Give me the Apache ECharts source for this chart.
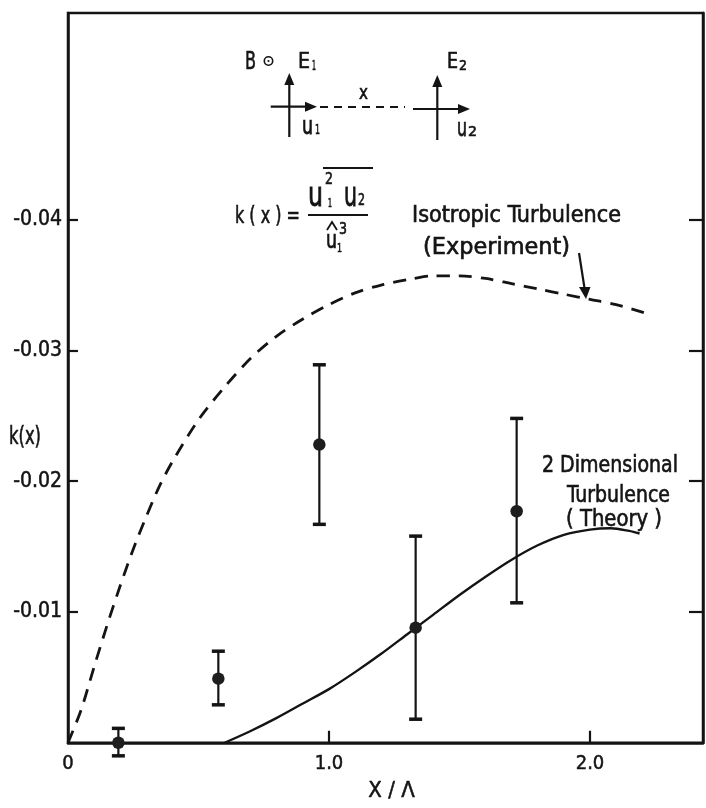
<!DOCTYPE html>
<html>
<head>
<meta charset="utf-8">
<script src="https://cdn.jsdelivr.net/npm/echarts@6/dist/echarts.min.js"></script>
<style>
  html, body { margin: 0; padding: 0; background: #fff; }
  #chart { width: 706px; height: 808px; }
</style>
</head>
<body>
<div id="chart"></div>
<script>
const FONT = '"DejaVu Sans Condensed", "Liberation Sans Narrow", "DejaVu Sans", sans-serif';
const INK = '#141414';

// Isotropic turbulence (experiment), dashed curve: x / Λ and k(x)
const isoX = [0, 0.05, 0.1, 0.15, 0.2, 0.25, 0.3, 0.35, 0.4, 0.5, 0.6, 0.7, 0.8, 0.9, 1.0,
              1.1, 1.2, 1.3, 1.4, 1.5, 1.6, 1.7, 1.8, 1.9, 2.0, 2.1, 2.22];
const isoY = [0, -0.0025, -0.0058, -0.0090, -0.0120, -0.0148, -0.0173, -0.0196, -0.0215, -0.0247, -0.0272,
              -0.0294, -0.0311, -0.0324, -0.0335, -0.0344, -0.0350, -0.0354, -0.0357, -0.0357, -0.0355,
              -0.0351, -0.0347, -0.0343, -0.0339, -0.0335, -0.0328];

// Two-dimensional turbulence (theory), solid curve
const theoryX = [0.6, 0.7, 0.8, 0.9, 1.0, 1.1, 1.2, 1.3, 1.4, 1.5, 1.6, 1.7, 1.8, 1.9, 2.0, 2.08, 2.15, 2.19];
const theoryY = [0, -0.0009, -0.0019, -0.0030, -0.0041, -0.0054, -0.0068, -0.0083, -0.0098, -0.0113, -0.0127,
                 -0.0140, -0.0151, -0.0159, -0.0163, -0.0164, -0.0162, -0.0160];

// Measured k(x) with error bars
const measX    = [0.193, 0.576, 0.963, 1.332, 1.719];
const measY    = [0, -0.0049, -0.0228, -0.0088, -0.0177];
const measTop  = [-0.0011, -0.0070, -0.0289, -0.0158, -0.0248];
const measBot  = [0.0010, -0.0029, -0.0167, -0.0018, -0.0107];

// Axis ticks and labels
const yTicks = [-0.04, -0.03, -0.02, -0.01];
const xTicks = [1, 2];
const xLabelValues = [0, 1, 2];

const zip = (xs, ys) => xs.map((x, i) => [x, ys[i]]);

// Text helper: fits a string between two x positions (the lettering is condensed)
const measureCtx = document.createElement('canvas').getContext('2d');
function fitText(str, x0, x1, yMid, size, scaleY) {
  const font = size + 'px ' + FONT;
  measureCtx.font = font;
  const w = measureCtx.measureText(str).width;
  return {
    type: 'text', x: x0, y: yMid, scaleX: (x1 - x0) / w, scaleY: scaleY || 1, z: 20,
    style: { text: str, font: font, fill: INK, stroke: INK, lineWidth: 0.6,
             textAlign: 'left', textVerticalAlign: 'middle' }
  };
}
function seg(x1, y1, x2, y2, lw, dash) {
  return { type: 'line', z: 20, shape: { x1, y1, x2, y2 },
           style: { stroke: INK, lineWidth: lw || 2.2, lineDash: dash || null } };
}
function head(points) {
  return { type: 'polygon', z: 20, shape: { points }, style: { fill: INK } };
}

const graphics = [
  // field diagram
  fitText('B', 245, 256, 62, 25),
  { type: 'circle', z: 20, shape: { cx: 268.5, cy: 61, r: 4.2 }, style: { stroke: INK, lineWidth: 1.6, fill: 'none' } },
  { type: 'circle', z: 20, shape: { cx: 268.5, cy: 61, r: 1.1 }, style: { fill: INK } },
  fitText('E', 298, 310, 62.5, 21),
  fitText('1', 312, 316, 66, 14),
  fitText('E', 447, 458, 62.5, 21),
  fitText('2', 459, 467, 66, 14),
  seg(289.3, 137, 289.3, 84),
  head([[284.3, 85], [294.3, 85], [289.3, 73]]),
  seg(270.7, 106.7, 306, 106.7),
  head([[305, 101.7], [305, 111.7], [317, 106.7]]),
  seg(320, 107, 405, 107, 2.2, [8, 6]),
  fitText('x', 359, 368, 94, 20),
  seg(437.3, 140, 437.3, 86),
  head([[432.3, 87], [442.3, 87], [437.3, 75]]),
  seg(413, 109, 459, 109),
  head([[458, 104], [458, 114], [470, 109]]),
  fitText('u', 302, 313, 127.5, 20, 1.25),
  fitText('1', 315, 320, 130, 14),
  fitText('u', 457, 467, 129.5, 20, 1.25),
  fitText('2', 468, 477, 132.5, 14),

  // definition of k(x)
  fitText('k ( x ) =', 235, 300, 217, 23),
  seg(323, 168, 373, 168),
  fitText('u', 308, 323, 197, 24, 1.4),
  fitText('2', 325, 333, 180, 15),
  fitText('1', 328, 332, 203.5, 12),
  fitText('u', 344, 357, 197, 24, 1.4),
  fitText('2', 358, 365, 201.5, 15),
  seg(308, 215, 368, 215),
  fitText('u', 326, 337, 241.5, 20, 1.2),
  { type: 'polyline', z: 20, shape: { points: [[327, 230], [332, 222], [337, 230]] }, style: { stroke: INK, lineWidth: 1.8, fill: 'none' } },
  fitText('3', 339, 347, 230, 15),
  fitText('1', 337, 342, 249, 12),

  // curve annotations
  fitText('Isotropic Turbulence', 412, 621, 216.5, 23),
  fitText('(Experiment)', 423, 570, 248, 23),
  seg(579, 253, 584.5, 288),
  head([[579, 287], [590.5, 287], [586, 299]]),
  fitText('2 Dimensional', 542, 678, 466, 23),
  fitText('Turbulence', 567, 670, 496, 23),
  fitText('( Theory )', 566, 662, 520, 23),

  // y-axis title
  fitText('k(x)', 9, 41, 437, 25)
];

const chart = echarts.init(document.getElementById('chart'), null, { renderer: 'canvas' });
chart.setOption({
  animation: false,
  backgroundColor: '#fff',
  grid: { left: 68, right: 3, top: 13, bottom: 59, show: true, borderColor: INK, borderWidth: 2.5 },
  xAxis: {
    type: 'value', min: 0, max: 2.433,
    name: 'X / Λ', nameLocation: 'middle', nameGap: 38,
    nameTextStyle: { fontFamily: FONT, fontSize: 22, color: INK, padding: [0, 0, 0, 12],
                     textBorderColor: INK, textBorderWidth: 0.5 },
    axisLine: { show: true, onZero: false, lineStyle: { color: INK, width: 2.5 } },
    axisTick: { show: true, inside: true, length: 12, customValues: xTicks, lineStyle: { color: INK, width: 2.2 } },
    axisLabel: { show: true, customValues: xLabelValues, margin: 11, fontFamily: FONT, fontSize: 20, color: INK,
                 textBorderColor: INK, textBorderWidth: 0.5,
                 formatter: v => (v === 0 ? '0' : v.toFixed(1)) },
    splitLine: { show: false }
  },
  yAxis: [
    {
      type: 'value', inverse: true, min: -0.0558, max: 0, position: 'left',
      axisLine: { show: true, onZero: false, lineStyle: { color: INK, width: 2.5 } },
      axisTick: { show: true, inside: true, length: 10, customValues: yTicks, lineStyle: { color: INK, width: 2.2 } },
      axisLabel: { show: true, customValues: yTicks, margin: 6, fontFamily: FONT, fontSize: 21, color: INK,
                   textBorderColor: INK, textBorderWidth: 0.5,
                   formatter: v => v.toFixed(2) },
      splitLine: { show: false }
    },
    {
      type: 'value', inverse: true, min: -0.0558, max: 0, position: 'right',
      axisLine: { show: true, onZero: false, lineStyle: { color: INK, width: 2.5 } },
      axisTick: { show: true, inside: true, length: 14, customValues: yTicks, lineStyle: { color: INK, width: 2.2 } },
      axisLabel: { show: false },
      splitLine: { show: false }
    }
  ],
  series: [
    {
      name: 'Isotropic Turbulence (Experiment)', type: 'line', data: zip(isoX, isoY),
      smooth: 0.3, showSymbol: false, z: 5,
      lineStyle: { color: INK, width: 2.8, type: [13, 9] }
    },
    {
      name: '2 Dimensional Turbulence (Theory)', type: 'line', data: zip(theoryX, theoryY),
      smooth: 0.3, showSymbol: false, z: 5,
      lineStyle: { color: INK, width: 2.4 }
    },
    {
      name: 'error bars', type: 'custom', z: 6,
      data: measX.map((x, i) => [x, measTop[i], measBot[i]]),
      encode: { x: 0, y: [1, 2] },
      renderItem: (params, api) => {
        const x = api.value(0);
        const a = api.coord([x, api.value(1)]);
        const b = api.coord([x, api.value(2)]);
        const w = 6.5;
        return {
          type: 'group',
          children: [
            { type: 'line', shape: { x1: a[0], y1: a[1], x2: b[0], y2: b[1] }, style: { stroke: INK, lineWidth: 2.2 } },
            { type: 'line', shape: { x1: a[0] - w, y1: a[1], x2: a[0] + w, y2: a[1] }, style: { stroke: INK, lineWidth: 3.5 } },
            { type: 'line', shape: { x1: b[0] - w, y1: b[1], x2: b[0] + w, y2: b[1] }, style: { stroke: INK, lineWidth: 3.5 } }
          ]
        };
      }
    },
    {
      name: 'k(x) measured', type: 'scatter', data: zip(measX, measY), z: 7,
      symbol: 'circle', symbolSize: 12.5, itemStyle: { color: '#1e1e1e', opacity: 1 }
    }
  ],
  graphic: graphics
});
</script>
</body>
</html>
